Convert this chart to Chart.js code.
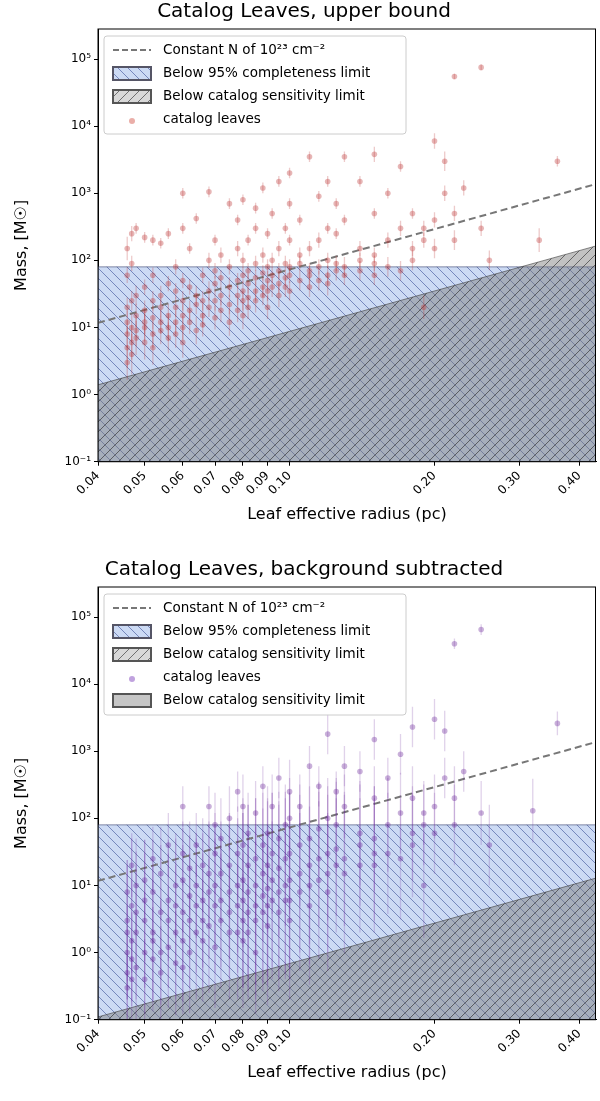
<!DOCTYPE html>
<html><head><meta charset="utf-8">
<script src="https://cdn.jsdelivr.net/npm/chart.js@4"></script>
<style>body{margin:0;background:#fff;font-family:"DejaVu Sans";overflow:hidden}
.c{position:relative;width:600px;height:558px;}
</style></head><body>
<div class="c"><canvas id="a"></canvas></div>
<div class="c"><canvas id="b"></canvas></div>
<script>
const xTicks=[0.04,0.05,0.06,0.07,0.08,0.09,0.10,0.20,0.30,0.40];
const yTicks=[0.1,1,10,100,1000,10000,100000];
const yTickLabels=["10⁻¹","10⁰","10¹","10²","10³","10⁴","10⁵"];
const xRange=[0.04,0.433];
const completeness=80;
const colDensTop=[11.7,1371];
const sensTop=[1.4,164];
const sensBottom=[0.11,12.9];
// [radius, mass, error factor]
const leavesTop=[
[0.046,12,1.5],[0.046,8,1.6],[0.046,20,1.4],[0.046,5,2],[0.046,150,1.5],[0.046,60,1.3],[0.046,3,1.8],
[0.047,25,1.4],[0.047,10,1.6],[0.047,6,1.8],[0.047,4,2],[0.047,90,1.3],[0.047,250,1.3],
[0.048,15,1.5],[0.048,9,1.7],[0.048,30,1.4],[0.048,7,1.8],[0.048,300,1.2],
[0.05,10,1.6],[0.05,18,1.4],[0.05,6,1.8],[0.05,40,1.3],[0.05,12,1.5],[0.05,220,1.2],
[0.052,8,1.6],[0.052,25,1.4],[0.052,14,1.5],[0.052,5,1.8],[0.052,60,1.3],[0.052,200,1.2],
[0.054,12,1.5],[0.054,30,1.4],[0.054,9,1.6],[0.054,180,1.2],[0.054,20,1.4],
[0.056,7,1.7],[0.056,15,1.5],[0.056,45,1.3],[0.056,250,1.2],[0.056,10,1.6],
[0.058,20,1.4],[0.058,12,1.5],[0.058,35,1.3],[0.058,80,1.3],[0.058,8,1.6],
[0.06,10,1.5],[0.06,25,1.4],[0.06,50,1.3],[0.06,1000,1.2],[0.06,15,1.5],[0.06,300,1.2],[0.06,6,1.7],
[0.062,18,1.4],[0.062,40,1.3],[0.062,12,1.5],[0.062,150,1.2],
[0.064,30,1.4],[0.064,9,1.6],[0.064,22,1.4],[0.064,420,1.2],
[0.066,15,1.5],[0.066,60,1.3],[0.066,25,1.4],[0.066,11,1.5],
[0.068,35,1.4],[0.068,20,1.4],[0.068,100,1.3],[0.068,1050,1.2],
[0.07,25,1.4],[0.07,45,1.3],[0.07,14,1.5],[0.07,70,1.3],[0.07,200,1.2],
[0.072,30,1.4],[0.072,18,1.5],[0.072,55,1.3],[0.072,120,1.3],
[0.075,40,1.4],[0.075,22,1.4],[0.075,80,1.3],[0.075,700,1.2],[0.075,12,1.6],
[0.078,50,1.3],[0.078,30,1.4],[0.078,18,1.5],[0.078,150,1.3],[0.078,400,1.2],
[0.08,35,1.4],[0.08,60,1.3],[0.08,25,1.4],[0.08,100,1.3],[0.08,800,1.2],[0.08,15,1.6],
[0.082,45,1.4],[0.082,28,1.4],[0.082,70,1.3],[0.082,200,1.2],[0.082,20,1.5],
[0.085,55,1.3],[0.085,35,1.4],[0.085,90,1.3],[0.085,300,1.2],[0.085,25,1.5],[0.085,600,1.2],
[0.088,40,1.4],[0.088,65,1.3],[0.088,30,1.4],[0.088,120,1.3],[0.088,1200,1.2],
[0.09,50,1.4],[0.09,80,1.3],[0.09,35,1.4],[0.09,250,1.2],[0.09,20,1.5],
[0.092,60,1.3],[0.092,40,1.4],[0.092,100,1.3],[0.092,500,1.2],
[0.095,45,1.4],[0.095,70,1.3],[0.095,30,1.5],[0.095,150,1.3],[0.095,1500,1.2],
[0.098,55,1.3],[0.098,90,1.3],[0.098,40,1.4],[0.098,300,1.2],
[0.1,60,1.3],[0.1,35,1.4],[0.1,80,1.3],[0.1,200,1.2],[0.1,700,1.2],[0.1,2000,1.2],
[0.105,50,1.4],[0.105,90,1.3],[0.105,120,1.3],[0.105,400,1.2],
[0.11,70,1.3],[0.11,40,1.4],[0.11,150,1.3],[0.11,3500,1.2],[0.11,60,1.4],
[0.115,80,1.3],[0.115,50,1.4],[0.115,200,1.3],[0.115,900,1.2],
[0.12,60,1.4],[0.12,100,1.3],[0.12,300,1.2],[0.12,1500,1.2],[0.12,45,1.5],
[0.125,90,1.3],[0.125,70,1.4],[0.125,250,1.2],[0.125,700,1.2],
[0.13,80,1.4],[0.13,60,1.4],[0.13,400,1.2],[0.13,3500,1.2],
[0.14,100,1.3],[0.14,70,1.4],[0.14,150,1.3],[0.14,1500,1.2],
[0.15,90,1.3],[0.15,60,1.4],[0.15,120,1.3],[0.15,3800,1.3],[0.15,500,1.2],
[0.16,80,1.4],[0.16,200,1.3],[0.16,1000,1.2],
[0.17,70,1.4],[0.17,300,1.3],[0.17,2500,1.2],
[0.18,150,1.3],[0.18,100,1.4],[0.18,500,1.2],
[0.19,20,1.5],[0.19,200,1.3],[0.19,300,1.3],
[0.2,6000,1.3],[0.2,400,1.3],[0.2,150,1.4],
[0.21,3000,1.4],[0.21,1000,1.3],
[0.22,55000,1.1],[0.22,200,1.4],[0.22,500,1.3],
[0.23,1200,1.3],[0.25,75000,1.1],[0.25,300,1.3],[0.26,100,1.4],
[0.33,200,1.5],[0.36,3000,1.2]
];
const leavesBottom=[
[0.046,1,5],[0.046,3,8],[0.046,0.5,5],[0.046,8,3],[0.046,0.3,3],[0.046,2,10],
[0.047,5,10],[0.047,1.5,8],[0.047,0.8,5],[0.047,20,3],[0.047,0.4,4],
[0.048,2,10],[0.048,10,5],[0.048,0.6,6],[0.048,4,8],
[0.05,3,10],[0.05,1,8],[0.05,12,4],[0.05,0.4,4],[0.05,6,8],
[0.052,2,10],[0.052,8,6],[0.052,0.8,6],[0.052,25,3],[0.052,1.5,8],
[0.054,4,10],[0.054,1,6],[0.054,15,5],[0.054,0.5,5],
[0.056,3,10],[0.056,6,8],[0.056,1.2,8],[0.056,40,3],
[0.058,5,10],[0.058,2,10],[0.058,10,6],[0.058,0.7,6],
[0.06,4,10],[0.06,1.5,8],[0.06,12,6],[0.06,150,2],[0.06,0.6,5],[0.06,30,3],
[0.062,3,10],[0.062,7,8],[0.062,18,5],[0.062,1,8],
[0.064,5,10],[0.064,2,10],[0.064,40,3],[0.064,10,6],
[0.066,6,10],[0.066,1.5,8],[0.066,20,5],[0.066,3,10],
[0.068,8,10],[0.068,2.5,10],[0.068,150,2],[0.068,15,6],
[0.07,5,10],[0.07,10,8],[0.07,1.2,8],[0.07,30,4],[0.07,80,3],
[0.072,6,10],[0.072,3,10],[0.072,15,6],[0.072,50,4],
[0.075,8,10],[0.075,2,10],[0.075,20,6],[0.075,100,3],[0.075,4,10],
[0.078,10,10],[0.078,5,10],[0.078,30,5],[0.078,2,10],[0.078,250,2],
[0.08,6,20],[0.08,12,10],[0.08,3,10],[0.08,40,5],[0.08,150,3],[0.08,1.5,10],
[0.082,8,20],[0.082,4,15],[0.082,20,8],[0.082,60,4],[0.082,2,10],
[0.085,10,20],[0.085,5,15],[0.085,25,8],[0.085,3,15],[0.085,120,3],[0.085,1,8],
[0.088,7,20],[0.088,15,10],[0.088,4,15],[0.088,40,6],[0.088,300,2],
[0.09,9,20],[0.09,20,10],[0.09,5,15],[0.09,60,5],[0.09,2.5,15],
[0.092,12,20],[0.092,6,15],[0.092,30,8],[0.092,150,3],
[0.095,8,20],[0.095,18,10],[0.095,4,15],[0.095,50,5],[0.095,400,2],
[0.098,10,20],[0.098,25,10],[0.098,6,15],[0.098,80,4],
[0.1,12,20],[0.1,6,15],[0.1,30,8],[0.1,100,4],[0.1,250,3],[0.1,3,15],
[0.105,15,15],[0.105,40,8],[0.105,8,15],[0.105,150,3],
[0.11,20,15],[0.11,10,15],[0.11,50,6],[0.11,600,2],[0.11,5,15],
[0.115,25,10],[0.115,12,15],[0.115,70,5],[0.115,300,2],
[0.12,15,15],[0.12,30,10],[0.12,100,4],[0.12,1800,2],[0.12,8,15],
[0.125,35,10],[0.125,20,10],[0.125,80,5],[0.125,250,2],
[0.13,25,10],[0.13,15,15],[0.13,150,3],[0.13,600,2],
[0.14,40,8],[0.14,20,10],[0.14,60,6],[0.14,500,2],
[0.15,30,10],[0.15,20,10],[0.15,50,6],[0.15,1500,2],[0.15,200,3],
[0.16,30,8],[0.16,80,5],[0.16,400,2],
[0.17,25,8],[0.17,120,4],[0.17,900,2],
[0.18,60,5],[0.18,40,6],[0.18,200,3],[0.18,2300,2],
[0.19,10,6],[0.19,80,4],[0.19,120,3],
[0.2,3000,2],[0.2,150,3],[0.2,60,4],
[0.21,2000,2],[0.21,400,2],
[0.22,40000,1.2],[0.22,80,4],[0.22,200,3],
[0.23,500,2],[0.25,65000,1.2],[0.25,120,3],[0.26,40,4],
[0.32,130,3],[0.36,2600,1.5]
];

function pattern(bg,line,dir){
  const c=document.createElement('canvas');c.width=c.height=10;
  const g=c.getContext('2d');g.fillStyle=bg;g.fillRect(0,0,10,10);
  g.strokeStyle=line;g.lineWidth=1;g.beginPath();
  if(dir>0){g.moveTo(0,10);g.lineTo(10,0);g.moveTo(-5,5);g.lineTo(5,-5);g.moveTo(5,15);g.lineTo(15,5);}
  else{g.moveTo(0,0);g.lineTo(10,10);g.moveTo(-5,5);g.lineTo(5,15);g.moveTo(5,-5);g.lineTo(15,5);}
  g.stroke();
  return g.createPattern(c,'repeat');
}
const BLUE_BG='rgba(176,198,238,0.65)',BLUE_LN='rgba(60,80,150,0.6)';
const GREY_BG='rgba(120,120,120,0.45)',GREY_LN='rgba(40,40,40,0.6)';

const errPlugin={id:'err',
 beforeDatasetDraw(chart,args){
  const ds=chart.data.datasets[args.index];if(!ds.err)return;
  const ctx=chart.ctx,x=chart.scales.x,y=chart.scales.y,a=chart.chartArea;
  ctx.save();ctx.beginPath();ctx.rect(a.left,a.top,a.right-a.left,a.bottom-a.top);ctx.clip();
  ctx.strokeStyle=ds.errColor;ctx.lineWidth=1.3;
  ds.err.forEach(p=>{const px=x.getPixelForValue(p[0]);ctx.beginPath();
   ctx.moveTo(px,y.getPixelForValue(p[1]/p[2]));ctx.lineTo(px,y.getPixelForValue(p[1]*p[2]));ctx.stroke();});
  ctx.restore();
 }};
const legendPlugin={id:'leg',
 afterDraw(chart){
  const ctx=chart.ctx,a=chart.chartArea;
  ctx.save();ctx.strokeStyle='#000';ctx.lineWidth=1;ctx.strokeRect(a.left,a.top,a.right-a.left-0.5,a.bottom-a.top);ctx.restore();
  const items=chart.options.plugins.leg.items;
  const x0=a.left+6,y0=a.top+7,h=23*items.length+6,w=302;
  ctx.save();ctx.fillStyle='rgba(255,255,255,0.85)';ctx.strokeStyle='#ccc';ctx.lineWidth=1;
  ctx.beginPath();ctx.roundRect(x0,y0,w,h,3);ctx.fill();ctx.stroke();
  ctx.font='13.5px "DejaVu Sans"';ctx.textBaseline='middle';
  items.forEach((it,i)=>{const cy=y0+14+i*23;const sx=x0+9;
   if(it.t==='dash'){ctx.strokeStyle='#777';ctx.lineWidth=2;ctx.setLineDash([6,3]);ctx.beginPath();ctx.moveTo(sx,cy);ctx.lineTo(sx+38,cy);ctx.stroke();ctx.setLineDash([]);}
   else if(it.t==='pt'){ctx.fillStyle=it.c;ctx.beginPath();ctx.arc(sx+19,cy+2,3,0,7);ctx.fill();}
   else{ctx.fillStyle=it.c;ctx.fillRect(sx,cy-6,38,13);ctx.strokeStyle=it.e;ctx.strokeRect(sx,cy-6,38,13);}
   ctx.fillStyle='#000';ctx.fillText(it.l,sx+50,cy);});
  ctx.restore();
 }};

function make(id,title,pts,sens,ptCol,errCol,legItems){
 const lineX=[xRange[0],xRange[1]];
 const tickGrid={display:true,drawOnChartArea:false,drawTicks:true,tickLength:4,color:'#000'};
 return new Chart(document.getElementById(id),{
  data:{datasets:[
   {type:'scatter',data:pts.map(p=>({x:p[0],y:p[1]})),err:pts,errColor:errCol,backgroundColor:ptCol,borderWidth:0,pointRadius:2.8,order:0},
   {type:'line',data:lineX.map((x,i)=>({x,y:colDensTop[i]})),borderColor:'#777',borderWidth:2,borderDash:[7,4],pointRadius:0,fill:false,order:1},
   {type:'line',data:lineX.map((x,i)=>({x,y:sens[i]})),borderColor:'rgba(60,60,60,0.6)',borderWidth:1,pointRadius:0,fill:'start',backgroundColor:pattern(GREY_BG,GREY_LN,1),order:2},
   {type:'line',data:lineX.map(x=>({x,y:completeness})),borderColor:'rgba(60,70,110,0.6)',borderWidth:1,pointRadius:0,fill:'start',backgroundColor:pattern(BLUE_BG,BLUE_LN,-1),order:3}
  ]},
  options:{responsive:true,maintainAspectRatio:false,animation:false,
   layout:{padding:{right:0,bottom:30,left:8}},
   plugins:{legend:{display:false},tooltip:{enabled:false},
    title:{display:true,text:title,font:{size:20,family:'DejaVu Sans',weight:'normal'},color:'#000',padding:{top:0,bottom:5}},
    leg:{items:legItems}},
   scales:{
    x:{type:'logarithmic',min:xRange[0],max:xRange[1],grid:tickGrid,border:{color:'#000'},
     afterBuildTicks(s){s.ticks=xTicks.map(v=>({value:v}));},
     ticks:{autoSkip:false,maxRotation:45,minRotation:45,color:'#000',font:{size:12,family:'DejaVu Sans'},callback:(v)=>Number(v).toFixed(2)},
     title:{display:true,text:'Leaf effective radius (pc)',color:'#000',font:{size:16,family:'DejaVu Sans'}}},
    y:{type:'logarithmic',min:0.1,max:280000,grid:tickGrid,border:{color:'#000'},
     afterBuildTicks(s){s.ticks=yTicks.map(v=>({value:v}));},
     afterFit(s){s.width=90;},
     ticks:{autoSkip:false,color:'#000',font:{size:12,family:'DejaVu Sans'},callback:(v)=>yTickLabels[yTicks.findIndex(t=>Math.abs(t-v)/t<1e-6)]},
     title:{display:true,text:'Mass, [M☉]',color:'#000',font:{size:16,family:'DejaVu Sans'}}}
   }},
  plugins:[errPlugin,legendPlugin]});
}
const lg1=[{t:'dash',l:'Constant N of 10²³ cm⁻²'},{t:'box',c:pattern(BLUE_BG,BLUE_LN,-1),e:'#556',l:'Below 95% completeness limit'},{t:'box',c:pattern('rgba(200,200,200,0.7)',GREY_LN,1),e:'#555',l:'Below catalog sensitivity limit'},{t:'pt',c:'rgba(220,120,110,0.6)',l:'catalog leaves'}];
const lg2=[lg1[0],lg1[1],lg1[2],{t:'pt',c:'rgba(150,100,200,0.6)',l:'catalog leaves'},{t:'box',c:'rgba(160,160,160,0.6)',e:'#555',l:'Below catalog sensitivity limit'}];
make('a','Catalog Leaves, upper bound',leavesTop,sensTop,'rgba(185,45,45,0.35)','rgba(185,45,45,0.25)',lg1);
make('b','Catalog Leaves, background subtracted',leavesBottom,sensBottom,'rgba(100,30,150,0.35)','rgba(100,30,150,0.2)',lg2);
</script></body></html>
